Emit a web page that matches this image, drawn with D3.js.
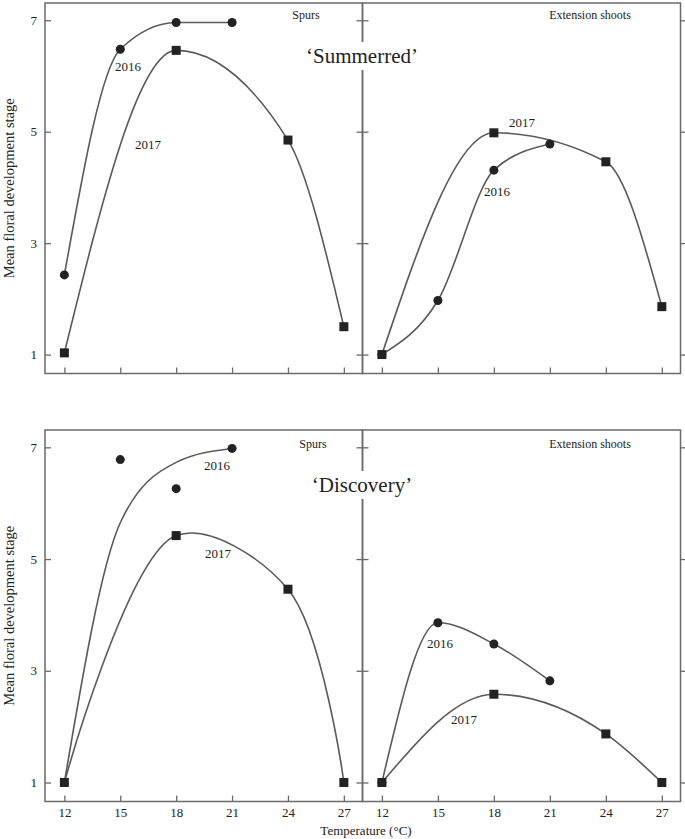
<!DOCTYPE html>
<html>
<head>
<meta charset="utf-8">
<script src="https://cdn.jsdelivr.net/npm/d3@7"></script>
<style>
  html, body { margin: 0; padding: 0; background: #fff; }
  svg { display: block; }
  text { font-family: "Liberation Serif", "Times New Roman", serif; fill: #222; }
</style>
</head>
<body>
<svg id="chart" width="685" height="839"></svg>
<script>
// ---------------- data ----------------
const xTickValues = [12, 15, 18, 21, 24, 27];
const yTickValues = [1, 3, 5, 7];
const cultivars = ["\u2018Summerred\u2019", "\u2018Discovery\u2019"];
const shootTypes = ["Spurs", "Extension shoots"];

const temps2016 = [12, 15, 18, 21];
const temps2017 = [12, 18, 24, 27];

// 'Summerred'
const summerredSpurs2016 = [2.43, 6.48, 6.96, 6.96];
const summerredSpurs2017 = [1.03, 6.46, 4.85, 1.50];
const summerredExt2016 = [1.00, 1.97, 4.31, 4.78];
const summerredExt2017 = [1.00, 4.98, 4.46, 1.86];

// 'Discovery'
const discoverySpurs2016Temps = [15, 18, 21];
const discoverySpurs2016 = [6.78, 6.26, 6.98];
const discoverySpurs2016Fit = [1.00, 5.65, 6.73, 6.98]; // fitted line at 12,15,18,21
const discoverySpurs2017 = [1.00, 5.42, 4.46, 1.00];
const discoveryExt2016 = [1.00, 3.86, 3.48, 2.82];
const discoveryExt2017 = [1.00, 2.58, 1.87, 1.00];

// ---------------- layout ----------------
const svg = d3.select("#chart");
const lineColor = "#5a5a5a";
const markColor = "#222";
const frameColor = "#6a6a6a";

const rows = [
  { top: 3, bottom: 373.5, title: cultivars[0], titleY: 63, showXLabels: false },
  { top: 430, bottom: 801.5, title: cultivars[1], titleY: 492, showXLabels: true }
];
const cols = [
  { left: 45, right: 362.5 },
  { left: 362.5, right: 680.5 }
];
const xDomain = [10.96, 28.0];
const yDomain = [0.66, 7.31];

const zip = (xs, ys) => xs.map((x, i) => ({ x, y: ys[i] }));

const panels = [
  { r: 0, c: 0, label: shootTypes[0], labelX: 306, labelY: 19,
    lines: [
      { pts: zip(temps2016, summerredSpurs2016), curve: d3.curveMonotoneX },
      { pts: zip(temps2017, summerredSpurs2017), curve: d3.curveMonotoneX }
    ],
    circles: zip(temps2016, summerredSpurs2016),
    squares: zip(temps2017, summerredSpurs2017),
    years: [ { t: "2016", x: 128, y: 71 }, { t: "2017", x: 148, y: 149 } ] },
  { r: 0, c: 1, label: shootTypes[1], labelX: 590, labelY: 19,
    lines: [
      { pts: zip(temps2016, summerredExt2016), curve: d3.curveMonotoneX },
      { pts: zip(temps2017, summerredExt2017), curve: d3.curveMonotoneX }
    ],
    circles: zip(temps2016, summerredExt2016),
    squares: zip(temps2017, summerredExt2017),
    years: [ { t: "2017", x: 522, y: 127 }, { t: "2016", x: 497, y: 196 } ] },
  { r: 1, c: 0, label: shootTypes[0], labelX: 313, labelY: 448,
    lines: [
      { pts: zip(temps2016, discoverySpurs2016Fit), curve: d3.curveMonotoneX },
      { pts: zip(temps2017, discoverySpurs2017), curve: d3.curveCatmullRom.alpha(0.5) }
    ],
    circles: zip(discoverySpurs2016Temps, discoverySpurs2016),
    squares: zip(temps2017, discoverySpurs2017),
    years: [ { t: "2016", x: 217, y: 470 }, { t: "2017", x: 218, y: 558 } ] },
  { r: 1, c: 1, label: shootTypes[1], labelX: 590, labelY: 448,
    lines: [
      { pts: zip(temps2016, discoveryExt2016), curve: d3.curveMonotoneX },
      { pts: zip(temps2017, discoveryExt2017), curve: d3.curveMonotoneX }
    ],
    circles: zip(temps2016, discoveryExt2016),
    squares: zip(temps2017, discoveryExt2017),
    years: [ { t: "2016", x: 440, y: 648 }, { t: "2017", x: 464, y: 724 } ] }
];

panels.forEach(p => {
  const row = rows[p.r], col = cols[p.c];
  const x = d3.scaleLinear().domain(xDomain).range([col.left, col.right]);
  const y = d3.scaleLinear().domain(yDomain).range([row.bottom, row.top]);
  const g = svg.append("g");

  // frame
  g.append("rect")
    .attr("x", col.left).attr("y", row.top)
    .attr("width", col.right - col.left).attr("height", row.bottom - row.top)
    .attr("fill", "none").attr("stroke", frameColor).attr("stroke-width", 1.5);

  // x ticks (inward) + labels
  const xAxis = d3.axisBottom(x).tickValues(xTickValues).tickSizeInner(-6).tickSizeOuter(0)
    .tickPadding(6).tickFormat(row.showXLabels ? d3.format("d") : () => "");
  const xg = g.append("g").attr("transform", `translate(0,${row.bottom})`).call(xAxis);
  xg.select(".domain").remove();
  xg.selectAll("line").attr("stroke", frameColor).attr("stroke-width", 1.3);
  xg.selectAll("text").attr("font-size", 13).attr("font-family", "Liberation Serif").attr("fill", "#222");

  // y ticks
  if (p.c === 0) {
    const yAxis = d3.axisLeft(y).tickValues(yTickValues).tickSizeInner(-6).tickSizeOuter(0)
      .tickPadding(8).tickFormat(d3.format("d"));
    const yg = g.append("g").attr("transform", `translate(${col.left},0)`).call(yAxis);
    yg.select(".domain").remove();
    yg.selectAll("line").attr("stroke", frameColor).attr("stroke-width", 1.3);
    yg.selectAll("text").attr("font-size", 13).attr("font-family", "Liberation Serif").attr("fill", "#222");
  } else {
    // ticks crossing divider
    const yg1 = g.append("g").attr("transform", `translate(${col.left},0)`)
      .call(d3.axisLeft(y).tickValues(yTickValues).tickSizeInner(6).tickSizeOuter(0).tickFormat(() => ""));
    yg1.select(".domain").remove();
    const yg2 = g.append("g").attr("transform", `translate(${col.left},0)`)
      .call(d3.axisRight(y).tickValues(yTickValues).tickSizeInner(6).tickSizeOuter(0).tickFormat(() => ""));
    yg2.select(".domain").remove();
    const yg3 = g.append("g").attr("transform", `translate(${col.right},0)`)
      .call(d3.axisLeft(y).tickValues(yTickValues).tickSizeInner(-9).tickSizeOuter(0).tickFormat(() => ""));
    yg3.select(".domain").remove();
    g.selectAll("g line").attr("stroke", frameColor).attr("stroke-width", 1.3);
  }

  // lines
  p.lines.forEach(l => {
    g.append("path")
      .attr("d", d3.line().x(d => x(d.x)).y(d => y(d.y)).curve(l.curve)(l.pts))
      .attr("fill", "none").attr("stroke", lineColor).attr("stroke-width", 1.6);
  });

  // markers
  g.selectAll("circle.m").data(p.circles).join("circle")
    .attr("cx", d => x(d.x)).attr("cy", d => y(d.y)).attr("r", 4.5).attr("fill", markColor);
  g.selectAll("rect.sq").data(p.squares).join("rect").attr("class", "sq")
    .attr("x", d => x(d.x) - 4.5).attr("y", d => y(d.y) - 4.5)
    .attr("width", 9).attr("height", 9).attr("fill", markColor);

  // panel label
  g.append("text").attr("x", p.labelX).attr("y", p.labelY)
    .attr("text-anchor", "middle").attr("font-size", 12).text(p.label);

  // year labels
  p.years.forEach(t => {
    g.append("text").attr("x", t.x).attr("y", t.y)
      .attr("text-anchor", "middle").attr("font-size", 13).text(t.t);
  });
});

// row titles with white backing over divider
rows.forEach(row => {
  const t = svg.append("text").attr("x", 362).attr("y", row.titleY)
    .attr("text-anchor", "middle").attr("font-size", 21).text(row.title);
  const bb = t.node().getBBox();
  svg.insert("rect", () => t.node())
    .attr("x", bb.x - 2).attr("y", bb.y - 2)
    .attr("width", bb.width + 4).attr("height", bb.height + 4)
    .attr("fill", "#fff");
  // y-axis title
  svg.append("text")
    .attr("transform", `translate(14,${(row.top + row.bottom) / 2}) rotate(-90)`)
    .attr("text-anchor", "middle").attr("font-size", 14.5)
    .text("Mean floral development stage");
});

// x-axis title
svg.append("text").attr("x", 366).attr("y", 835)
  .attr("text-anchor", "middle").attr("font-size", 13).text("Temperature (\u00B0C)");
</script>
</body>
</html>
